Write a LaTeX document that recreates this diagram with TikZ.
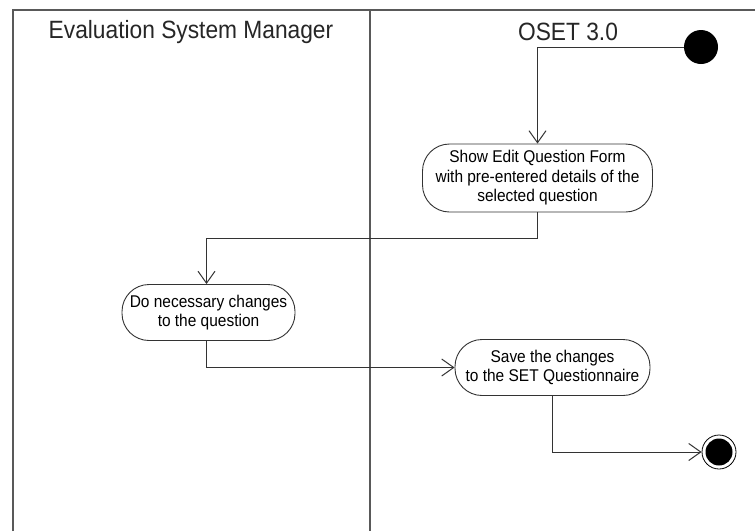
\documentclass[tikz,border=0pt]{standalone}
\usepackage{fontspec}
\setmainfont{Liberation Sans}
\newfontfamily\narrowsans[FakeStretch=0.91]{Liberation Sans}
\usetikzlibrary{arrows.meta}
\begin{document}
\begin{tikzpicture}[x=1pt,y=-1pt,
  lane/.style={draw=black!65,line width=1.6pt},
  action/.style={draw=black!80,line width=0.9pt,rounded corners=27pt,
    minimum height=56pt,inner sep=1pt,align=center,
    font=\narrowsans\fontsize{17}{19.5}\selectfont},
  head/.style={font=\narrowsans\fontsize{25}{29}\selectfont,text=black!85},
  flow/.style={draw=black!80,line width=1pt,
    -{Straight Barb[length=12pt,width=17pt,line width=1pt]}}]
\useasboundingbox (0,0) rectangle (755,531);
\fill[white] (0,0) rectangle (755,531);
% swimlanes
\draw[lane] (13,531) -- (13,10) -- (755,10);
\draw[lane] (370,10) -- (370,531);
\node[head] (h1) at (191,32) {Evaluation System Manager};
\node[head] (h2) at (568,32) {OSET 3.0};
% nodes
\node[circle,fill=black,minimum size=34pt,inner sep=0pt] (start) at (701,47) {};
\node[action,minimum width=230pt,minimum height=68pt] (a1) at (537.5,178)
  {Show Edit Question Form\\with pre-entered details of the\\selected question};
\node[action,minimum width=173pt] (a2) at (208.5,312.5)
  {Do necessary changes\\to the question};
\node[action,minimum width=195pt] (a3) at (552.5,367.5)
  {Save the changes\\to the SET Questionnaire};
\node[circle,draw=black,line width=0.8pt,minimum size=34pt,inner sep=0pt] (end) at (719,452) {};
\fill[black] (end.center) circle (13.5pt);
% connectors
\coordinate (c1) at (537.5,47);
\coordinate (c2) at (537.5,238);
\coordinate (c3) at (206.5,238);
\coordinate (c4) at (206.5,367.5);
\coordinate (c5) at (552.5,452);
\draw[flow] (start.west) -- (c1) -- (a1.north);
\draw[flow] (a1.south) -- (c2) -- (c3) -- (c3 |- a2.north);
\draw[flow] (c3 |- a2.south) -- (c4) -- (a3.west);
\draw[flow] (a3.south) -- (c5) -- (end.west);
\end{tikzpicture}
\end{document}
